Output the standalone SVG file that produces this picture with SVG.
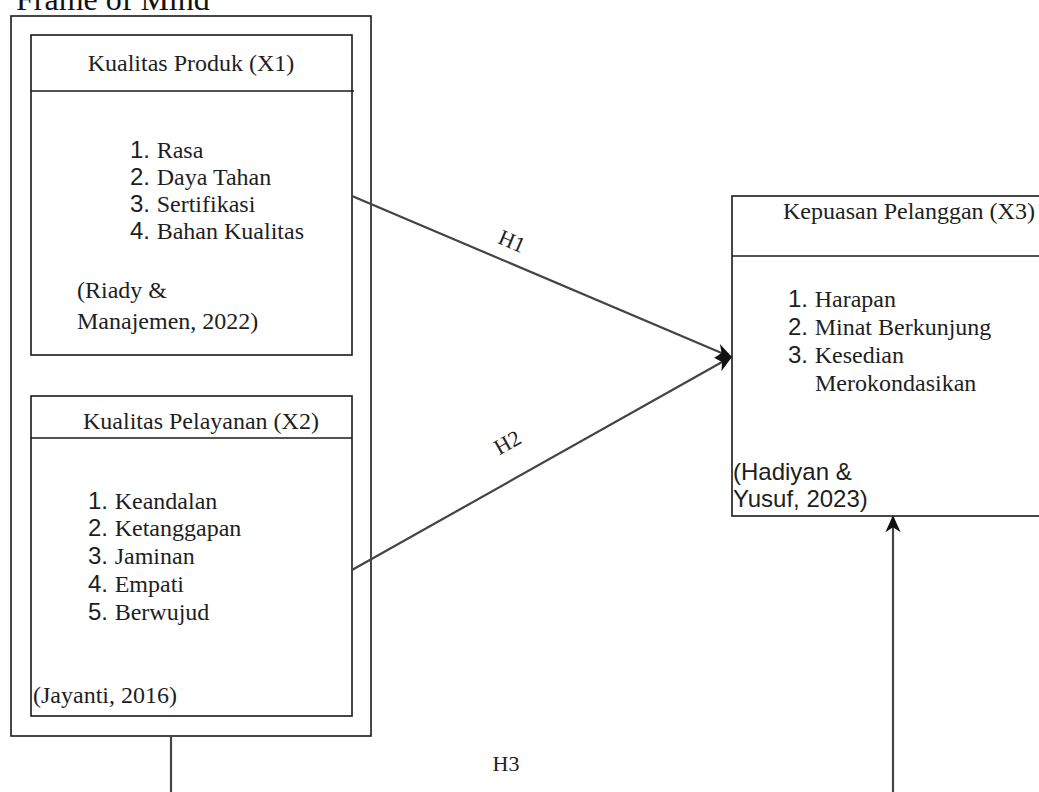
<svg xmlns="http://www.w3.org/2000/svg" width="1039" height="792" viewBox="0 0 1039 792">
<defs>
<style>
.box{fill:#fff;stroke:#1a1a1a;stroke-width:1.6}
.sep{stroke:#1a1a1a;stroke-width:1.6}
.t{font-family:"Liberation Serif","Times New Roman",serif;font-size:24px;fill:#1e1e1e}
.s{font-family:"Liberation Sans",Arial,sans-serif;font-size:24px;fill:#1e1e1e}
.n{font-family:"Liberation Sans",Arial,sans-serif}
.lbl{font-family:"Liberation Serif","Times New Roman",serif;font-size:22px;fill:#222}
.con{stroke:#444;stroke-width:2.2;fill:none}
</style>
<marker id="ah" viewBox="0 0 10 10" refX="9" refY="5" markerWidth="17" markerHeight="17" orient="auto" markerUnits="userSpaceOnUse">
<path d="M0,0.5 L10,5 L0,9.5 L3,5 Z" fill="#111"/>
</marker>
</defs>
<rect width="1039" height="792" fill="#fff"/>
<text x="16" y="10" font-family="Liberation Serif, serif" font-size="32" fill="#111">Frame of Mind</text>

<g id="outer">
<rect class="box" x="11" y="16" width="360" height="720"/>
</g>

<g id="x1">
<rect class="box" x="31" y="35" width="321" height="320"/>
<line class="sep" x1="31" y1="91" x2="354" y2="91"/>
<text class="t" x="191" y="71" text-anchor="middle">Kualitas Produk (X1)</text>
<text class="t" x="130" y="158"><tspan class="n">1. </tspan>Rasa</text>
<text class="t" x="130" y="185"><tspan class="n">2. </tspan>Daya Tahan</text>
<text class="t" x="130" y="212"><tspan class="n">3. </tspan>Sertifikasi</text>
<text class="t" x="130" y="239"><tspan class="n">4. </tspan>Bahan Kualitas</text>
<text class="t" x="77" y="298">(Riady &amp;</text>
<text class="t" x="77" y="329">Manajemen, 2022)</text>
</g>

<g id="x2">
<rect class="box" x="31" y="396" width="321" height="320"/>
<line class="sep" x1="31" y1="438" x2="352" y2="438"/>
<text class="t" x="83" y="429">Kualitas Pelayanan (X2)</text>
<text class="t" x="88" y="509"><tspan class="n">1. </tspan>Keandalan</text>
<text class="t" x="88" y="536"><tspan class="n">2. </tspan>Ketanggapan</text>
<text class="t" x="88" y="564"><tspan class="n">3. </tspan>Jaminan</text>
<text class="t" x="88" y="592"><tspan class="n">4. </tspan>Empati</text>
<text class="t" x="88" y="620"><tspan class="n">5. </tspan>Berwujud</text>
<text class="t" x="33" y="703">(Jayanti, 2016)</text>
</g>

<g id="x3">
<rect class="box" x="732" y="196" width="320" height="320"/>
<line class="sep" x1="732" y1="256" x2="1039" y2="256"/>
<text class="t" x="783" y="219">Kepuasan Pelanggan (X3)</text>
<text class="t" x="788" y="307"><tspan class="n">1. </tspan>Harapan</text>
<text class="t" x="788" y="335"><tspan class="n">2. </tspan>Minat Berkunjung</text>
<text class="t" x="788" y="363"><tspan class="n">3. </tspan>Kesedian</text>
<text class="t" x="815" y="391">Merokondasikan</text>
<text class="s" x="733" y="480">(Hadiyan &amp;</text>
<text class="s" x="733" y="507">Yusuf, 2023)</text>
</g>

<g id="connectors">
<line class="con" x1="352" y1="196" x2="731" y2="357" marker-end="url(#ah)"/>
<line class="con" x1="352" y1="570" x2="731" y2="357" marker-end="url(#ah)"/>
<line class="con" x1="893" y1="792" x2="893" y2="517" marker-end="url(#ah)"/>
<line class="con" x1="171" y1="736" x2="171" y2="792"/>
<text class="lbl" x="0" y="0" text-anchor="middle" transform="translate(509,248) rotate(23)">H1</text>
<text class="lbl" x="0" y="0" text-anchor="middle" transform="translate(511,449) rotate(-29.4)">H2</text>
<text class="lbl" x="506" y="771" text-anchor="middle" font-size="16">H3</text>
</g>
</svg>
